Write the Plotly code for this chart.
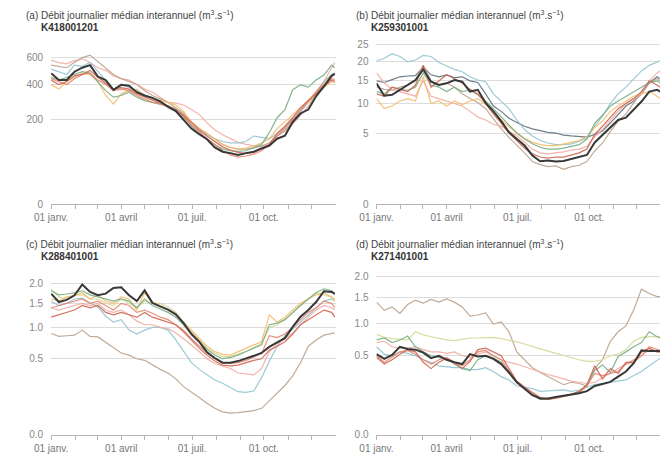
import math
import plotly.graph_objects as go

# ---------------- data ----------------
DAYS = list(range(0, 361, 10)) + [364]
MONTH_STARTS = [0, 31, 59, 90, 120, 151, 181, 212, 243, 273, 304, 334]
LABEL_DAYS = [0, 90, 181, 273]
LABEL_TEXT = ["01 janv.", "01 avril", "01 juil.", "01 oct."]

TITLE_TEXT = "Débit journalier médian interannuel (m<sup>3</sup>.s<sup>−1</sup>)"
PANEL_LETTERS = ["(a)", "(b)", "(c)", "(d)"]
STATIONS = ["K418001201", "K259301001", "K288401001", "K271401001"]

A_TICKS = [0, 200, 400, 600]
A_TICKTEXT = ["0", "200", "400", "600"]
B_TICKS = [0, 5, 10, 15, 20, 25]
B_TICKTEXT = ["0", "5", "10", "15", "20", "25"]
C_TICKS = [0, 0.5, 1.0, 1.5, 2.0]
C_TICKTEXT = ["0.0", "0.5", "1.0", "1.5", "2.0"]
D_TICKS = [0, 0.5, 1.0, 1.5, 2.0]
D_TICKTEXT = ["0.0", "0.5", "1.0", "1.5", "2.0"]

# Panel (a)
A_PINK = [580, 560, 550, 575, 590, 560, 520, 500, 460, 440, 430, 400, 370, 350, 320, 290, 285, 275, 250, 225,
          185, 155, 135, 120, 107, 100, 95, 92, 100, 130, 150, 180, 220, 270, 340, 420, 520, 560]
A_SALMON = [440, 420, 400, 440, 470, 480, 430, 400, 360, 370, 360, 330, 310, 290, 280, 265, 245, 215, 175, 145,
            120, 100, 80, 68, 62, 65, 70, 80, 100, 130, 160, 200, 250, 300, 350, 400, 440, 430]
A_BROWN = [540, 530, 520, 560, 600, 620, 570, 520, 470, 440, 420, 400, 360, 330, 310, 290, 260, 230, 190, 160,
           140, 120, 100, 90, 85, 85, 88, 95, 105, 130, 150, 190, 240, 290, 350, 420, 470, 480]
A_BLUE = [510, 490, 470, 540, 530, 560, 490, 430, 370, 400, 380, 360, 330, 310, 290, 270, 240, 210, 175, 150,
          135, 120, 110, 105, 105, 110, 130, 125, 120, 140, 165, 200, 240, 290, 330, 400, 470, 480]
A_GREEN = [450, 430, 450, 470, 490, 480, 420, 360, 320, 330, 350, 320, 300, 290, 280, 270, 250, 220, 170, 140,
           120, 100, 85, 80, 78, 80, 90, 100, 143, 209, 250, 366, 398, 383, 431, 466, 540, 520]
A_RED = [430, 400, 420, 460, 470, 500, 450, 410, 370, 380, 370, 340, 320, 300, 285, 270, 250, 220, 185, 155,
         130, 110, 92, 82, 75, 72, 75, 85, 100, 140, 170, 210, 260, 300, 340, 390, 430, 420]
A_ORANGE = [400, 370, 420, 450, 480, 470, 420, 330, 280, 340, 360, 370, 330, 310, 300, 290, 275, 240, 190, 160,
            140, 120, 100, 90, 85, 88, 95, 105, 120, 160, 190, 220, 260, 290, 330, 380, 420, 410]
A_BLACK = [478, 431, 431, 490, 520, 540, 455, 430, 365, 398, 392, 350, 330, 316, 296, 265, 242, 198, 160, 137,
           118, 90, 77, 73, 68, 73, 77, 87, 96, 120, 131, 189, 230, 250, 325, 387, 460, 474]

# Panel (b)
B_BLUE = [20.2, 21.0, 22.3, 21.5, 20.0, 20.5, 21.8, 21.5, 19.8, 18.8, 17.9, 17.3, 16.0, 15.2, 14.8, 12.0, 10.5, 9.0, 7.0, 5.5,
          4.6, 4.0, 3.7, 3.5, 3.5, 3.6, 3.9, 4.4, 6.0, 7.6, 10.0, 12.0, 13.5, 15.5, 17.5, 19.0, 20.0, 20.3]
B_SLATE = [15.0, 14.6, 15.3, 16.0, 16.2, 16.3, 18.5, 16.5, 16.0, 16.5, 15.8, 16.0, 15.0, 14.6, 12.0, 9.5, 8.5, 7.3, 6.6, 6.0,
           5.6, 5.3, 5.1, 5.0, 4.7, 4.6, 4.5, 4.45, 4.8, 5.3, 6.5, 8.0, 9.5, 10.5, 12.0, 14.5, 16.0, 15.5]
B_BROWN = [13.5, 13.0, 12.8, 13.5, 14.0, 15.0, 19.0, 15.0, 14.0, 14.5, 13.5, 12.0, 11.0, 10.2, 9.0, 7.2, 5.6, 4.4, 3.5, 2.6,
           1.8, 1.55, 1.4, 1.45, 1.2, 1.4, 1.5, 1.8, 2.8, 3.7, 5.2, 6.8, 8.0, 10.0, 12.5, 14.5, 15.5, 15.0]
B_GREEN = [12.5, 12.0, 13.5, 13.0, 12.8, 13.5, 17.0, 14.0, 13.5, 12.5, 13.5, 12.5, 12.8, 11.8, 10.5, 9.0, 7.5, 6.2, 5.0, 4.2,
           3.6, 3.2, 3.0, 3.0, 3.1, 3.3, 3.5, 4.2, 6.5, 7.8, 9.5, 10.5, 11.5, 12.5, 13.5, 14.5, 15.0, 14.5]
B_RED = [12.0, 11.5, 13.5, 13.0, 12.5, 14.0, 19.0, 13.5, 15.0, 16.5, 15.5, 14.5, 13.0, 12.0, 10.0, 8.0, 6.5, 5.0, 4.0, 3.1,
         2.5, 2.2, 2.1, 2.2, 2.2, 2.4, 2.6, 3.0, 4.8, 6.0, 7.5, 9.0, 10.0, 11.0, 12.5, 15.0, 14.0, 13.5]
B_PINK = [17.0, 14.5, 13.0, 12.5, 12.0, 11.5, 15.0, 11.5, 11.0, 10.5, 10.0, 9.5, 8.5, 7.5, 7.0, 6.3, 6.0, 5.3, 4.6, 3.8,
          3.0, 2.6, 2.5, 2.6, 2.7, 2.9, 3.0, 3.3, 4.5, 5.5, 7.0, 8.5, 10.0, 11.0, 12.0, 15.0, 17.0, 17.5]
B_ORANGE = [11.0, 9.0, 9.5, 10.5, 11.0, 10.5, 16.0, 10.0, 10.5, 9.5, 10.5, 9.8, 10.5, 11.0, 9.8, 8.5, 7.0, 6.0, 5.0, 4.3,
            3.8, 3.5, 3.4, 3.4, 3.6, 3.8, 4.0, 4.5, 5.8, 6.8, 8.5, 9.5, 10.5, 11.5, 12.0, 12.5, 11.5, 11.0]
B_BLACK = [14.4, 11.6, 11.8, 12.9, 14.0, 15.2, 17.9, 14.8, 14.0, 14.4, 15.2, 14.8, 12.5, 12.9, 10.1, 8.5, 6.8, 5.1, 4.2, 3.4,
           2.35, 1.83, 1.88, 1.8, 1.85, 2.03, 2.15, 2.4, 3.76, 4.7, 5.8, 7.0, 7.4, 8.8, 10.4, 12.5, 12.9, 12.5]

# Panel (c)
C_BROWN = [0.89, 0.84, 0.85, 0.86, 0.95, 0.84, 0.83, 0.74, 0.65, 0.58, 0.55, 0.50, 0.48, 0.42, 0.37, 0.33, 0.27, 0.20, 0.16, 0.12,
           0.085, 0.06, 0.045, 0.04, 0.042, 0.045, 0.05, 0.06, 0.10, 0.15, 0.21, 0.30, 0.45, 0.68, 0.78, 0.86, 0.89, 0.90]
C_BLUE = [1.55, 1.45, 1.5, 1.6, 1.62, 1.5, 1.42, 1.22, 1.1, 1.15, 0.95, 0.88, 0.95, 1.0, 1.0, 0.95, 0.78, 0.6, 0.45, 0.37,
          0.31, 0.26, 0.23, 0.19, 0.16, 0.155, 0.165, 0.28, 0.47, 0.68, 0.85, 0.97, 1.1, 1.25, 1.4, 1.55, 1.6, 1.55]
C_PINK = [1.4, 1.35, 1.4, 1.45, 1.5, 1.45, 1.5, 1.35, 1.3, 1.35, 1.25, 1.12, 1.05, 1.05, 1.0, 0.98, 0.9, 0.8, 0.7, 0.6,
          0.5, 0.44, 0.41, 0.38, 0.33, 0.32, 0.31, 0.38, 0.6, 0.72, 0.8, 0.9, 1.05, 1.2, 1.35, 1.45, 1.4, 1.35]
C_RED = [1.2, 1.25, 1.3, 1.35, 1.45, 1.4, 1.45, 1.3, 1.25, 1.3, 1.25, 1.2, 1.3, 1.2, 1.15, 1.1, 1.05, 0.92, 0.78, 0.65,
         0.55, 0.47, 0.42, 0.41, 0.42, 0.45, 0.48, 0.5, 0.62, 0.68, 0.75, 0.88, 1.05, 1.15, 1.25, 1.35, 1.3, 1.2]
C_SALMON = [1.4, 1.45, 1.5, 1.55, 1.6, 1.5, 1.55, 1.45, 1.35, 1.5, 1.45, 1.3, 1.35, 1.28, 1.2, 1.15, 1.05, 0.95, 0.8, 0.68,
            0.58, 0.5, 0.45, 0.44, 0.45, 0.48, 0.52, 0.57, 0.85, 0.82, 0.88, 1.0, 1.15, 1.3, 1.4, 1.55, 1.5, 1.4]
C_GREEN = [1.8, 1.7, 1.72, 1.75, 1.8, 1.7, 1.65, 1.6, 1.55, 1.6, 1.55, 1.4, 1.6, 1.45, 1.38, 1.3, 1.2, 1.05, 0.88, 0.75,
           0.63, 0.55, 0.5, 0.52, 0.55, 0.6, 0.65, 0.7, 1.05, 1.08, 1.15, 1.3, 1.45, 1.6, 1.75, 1.85, 1.8, 1.7]
C_ORANGE = [1.6, 1.55, 1.65, 1.68, 1.75, 1.6, 1.7, 1.55, 1.5, 1.65, 1.6, 1.35, 1.75, 1.5, 1.45, 1.35, 1.25, 1.1, 0.95, 0.8,
            0.68, 0.6, 0.56, 0.55, 0.6, 0.65, 0.7, 0.75, 1.25, 1.1, 1.2, 1.35, 1.5, 1.6, 1.7, 1.75, 1.65, 1.55]
C_YELLOW = [1.85, 1.65, 1.6, 1.7, 1.7, 1.6, 1.6, 1.5, 1.45, 1.6, 1.5, 1.4, 1.55, 1.5, 1.5, 1.42, 1.3, 1.1, 0.92, 0.78,
            0.65, 0.58, 0.53, 0.53, 0.56, 0.6, 0.66, 0.72, 1.0, 1.05, 1.15, 1.3, 1.45, 1.6, 1.75, 1.7, 1.65, 1.6]
C_BLACK = [1.73, 1.53, 1.58, 1.69, 1.96, 1.77, 1.69, 1.73, 1.87, 1.89, 1.69, 1.55, 1.81, 1.51, 1.43, 1.36, 1.26, 1.08, 0.88, 0.75,
           0.59, 0.51, 0.45, 0.45, 0.47, 0.50, 0.54, 0.58, 0.67, 0.74, 0.81, 1.01, 1.21, 1.35, 1.53, 1.79, 1.77, 1.73]

# Panel (d)
D_BROWN = [1.41, 1.24, 1.31, 1.18, 1.36, 1.45, 1.39, 1.47, 1.41, 1.48, 1.41, 1.31, 1.13, 1.15, 1.19, 0.98, 1.02, 0.85, 0.55, 0.45,
           0.36, 0.31, 0.27, 0.24, 0.20, 0.22, 0.21, 0.19, 0.35, 0.45, 0.70, 0.85, 0.95, 1.25, 1.70, 1.60, 1.53, 1.53]
D_YELLOW = [0.81, 0.76, 0.74, 0.73, 0.72, 0.85, 0.80, 0.77, 0.74, 0.72, 0.71, 0.73, 0.75, 0.75, 0.76, 0.76, 0.74, 0.72, 0.69, 0.66,
            0.62, 0.59, 0.56, 0.53, 0.51, 0.48, 0.45, 0.43, 0.43, 0.45, 0.50, 0.52, 0.58, 0.70, 0.76, 0.77, 0.77, 0.77]
D_BLUE = [0.62, 0.52, 0.50, 0.55, 0.53, 0.50, 0.45, 0.42, 0.38, 0.37, 0.36, 0.36, 0.34, 0.34, 0.36, 0.32, 0.27, 0.24, 0.19, 0.18,
          0.17, 0.15, 0.155, 0.16, 0.16, 0.15, 0.16, 0.18, 0.2, 0.21, 0.22, 0.23, 0.24, 0.28, 0.32, 0.38, 0.45, 0.47]
D_GREEN = [0.72, 0.75, 0.68, 0.72, 0.78, 0.62, 0.55, 0.50, 0.48, 0.45, 0.42, 0.35, 0.33, 0.45, 0.50, 0.47, 0.42, 0.30, 0.22, 0.18,
           0.13, 0.10, 0.10, 0.11, 0.12, 0.13, 0.15, 0.20, 0.33, 0.39, 0.31, 0.49, 0.55, 0.62, 0.68, 0.85, 0.77, 0.75]
D_RED = [0.48, 0.40, 0.45, 0.52, 0.58, 0.55, 0.42, 0.35, 0.42, 0.47, 0.40, 0.35, 0.43, 0.58, 0.60, 0.55, 0.50, 0.35, 0.23, 0.18,
         0.14, 0.11, 0.10, 0.11, 0.12, 0.13, 0.15, 0.20, 0.38, 0.25, 0.35, 0.30, 0.42, 0.42, 0.55, 0.60, 0.55, 0.55]
D_PINK = [0.68, 0.70, 0.62, 0.60, 0.60, 0.62, 0.58, 0.55, 0.55, 0.53, 0.55, 0.50, 0.48, 0.52, 0.55, 0.50, 0.45, 0.42, 0.40, 0.37,
          0.34, 0.31, 0.29, 0.27, 0.25, 0.23, 0.22, 0.21, 0.22, 0.26, 0.30, 0.35, 0.40, 0.42, 0.50, 0.58, 0.55, 0.55]
D_SALMON = [0.50, 0.42, 0.48, 0.55, 0.57, 0.52, 0.45, 0.40, 0.45, 0.48, 0.42, 0.38, 0.45, 0.55, 0.57, 0.50, 0.45, 0.33, 0.22, 0.17,
            0.13, 0.105, 0.10, 0.105, 0.115, 0.13, 0.14, 0.19, 0.30, 0.28, 0.30, 0.32, 0.40, 0.45, 0.50, 0.62, 0.58, 0.57]
D_BLACK = [0.52, 0.46, 0.51, 0.62, 0.59, 0.58, 0.54, 0.47, 0.50, 0.45, 0.42, 0.40, 0.52, 0.49, 0.50, 0.46, 0.40, 0.31, 0.22, 0.166,
           0.125, 0.105, 0.105, 0.113, 0.121, 0.132, 0.138, 0.152, 0.19, 0.206, 0.223, 0.27, 0.32, 0.41, 0.57, 0.56, 0.56, 0.56]

# ---------------- styles ----------------
COL = {
    "black": "#383838", "brown": "#bca38d", "blue": "#93c5d1", "green": "#78ae84",
    "red": "#cf6552", "pink": "#f3aba3", "salmon": "#e5866f", "orange": "#f5bd6c",
    "yellow": "#d6d897", "slate": "#5f707c",
}

PANELS = [
    [("pink", A_PINK), ("brown", A_BROWN), ("blue", A_BLUE), ("orange", A_ORANGE), ("green", A_GREEN),
     ("salmon", A_SALMON), ("red", A_RED), ("black", A_BLACK)],
    [("slate", B_SLATE), ("blue", B_BLUE), ("brown", B_BROWN), ("pink", B_PINK), ("orange", B_ORANGE),
     ("green", B_GREEN), ("red", B_RED), ("black", B_BLACK)],
    [("brown", C_BROWN), ("blue", C_BLUE), ("pink", C_PINK), ("yellow", C_YELLOW), ("orange", C_ORANGE),
     ("green", C_GREEN), ("salmon", C_SALMON), ("red", C_RED), ("black", C_BLACK)],
    [("brown", D_BROWN), ("yellow", D_YELLOW), ("blue", D_BLUE), ("pink", D_PINK), ("green", D_GREEN),
     ("salmon", D_SALMON), ("red", D_RED), ("black", D_BLACK)],
]
TICKS = [(A_TICKS, A_TICKTEXT), (B_TICKS, B_TICKTEXT), (C_TICKS, C_TICKTEXT), (D_TICKS, D_TICKTEXT)]

W, H = 660, 461
# pixel geometry: (x_left, x_right, day_at_right, y_bottom, y_top, sqrt_top)
GEOM = [
    (35, 327, 365, 206, 40, 27.35),
    (369, 660, 363.75, 206, 40, 5.139),
    (35, 327, 365, 439.3, 275, 1.513),
    (369, 660, 363.75, 439.3, 275, 1.454),
]
TITLE_POS = [(7, 14, 23, 27), (346, 14, 361, 26.5), (7, 246, 23, 259.3), (346, 246.5, 361, 259.3)]

fig = go.Figure()
layout = dict(
    width=W, height=H, margin=dict(l=0, r=0, t=0, b=0),
    paper_bgcolor="white", plot_bgcolor="white", showlegend=False,
    font=dict(family="Liberation Sans, Arial, sans-serif", size=10, color="#444"),
    annotations=[],
)

for i, series in enumerate(PANELS):
    n = "" if i == 0 else str(i + 1)
    xl, xr, dright, yb, yt, stop = GEOM[i]
    for cname, vals in series:
        is_black = cname == "black"
        fig.add_trace(go.Scatter(
            x=DAYS, y=[math.sqrt(v) for v in vals], mode="lines",
            line=dict(color=COL[cname], width=2.0 if is_black else 1.2),
            opacity=1.0 if is_black else 0.9,
            xaxis="x" + n, yaxis="y" + n, hoverinfo="skip",
        ))
    tv, tt = TICKS[i]
    layout["xaxis" + n] = dict(
        domain=[xl / W, xr / W], range=[0, dright], anchor="y" + n,
        tickmode="array", tickvals=LABEL_DAYS, ticktext=LABEL_TEXT,
        ticks="outside", ticklen=4, tickcolor="#b5b5b5", tickwidth=1,
        minor=dict(tickmode="array", tickvals=MONTH_STARTS, ticks="outside", ticklen=4,
                   tickcolor="#b5b5b5", tickwidth=1, showgrid=False),
        showline=True, linecolor="#b5b5b5", linewidth=1,
        showgrid=False, zeroline=False,
        tickfont=dict(size=10, color="#777"),
    )
    layout["yaxis" + n] = dict(
        domain=[1 - yb / H, 1 - yt / H], range=[0, stop], anchor="x" + n,
        tickmode="array", tickvals=[math.sqrt(v) for v in tv], ticktext=tt,
        showgrid=True, gridcolor="#dcdcdc", gridwidth=1,
        zeroline=False, showline=False, ticks="",
        ticklabelstandoff=7,
        tickfont=dict(size=10, color="#888"),
    )
    tx, ty, sx, sy = TITLE_POS[i]
    layout["annotations"].append(dict(
        xref="paper", yref="paper", x=tx / W, y=1 - ty / H, xanchor="left", yanchor="middle",
        text=PANEL_LETTERS[i] + " " + TITLE_TEXT, showarrow=False,
        font=dict(size=10, color="#444"),
    ))
    layout["annotations"].append(dict(
        xref="paper", yref="paper", x=sx / W, y=1 - sy / H, xanchor="left", yanchor="middle",
        text="<b>" + STATIONS[i] + "</b>", showarrow=False,
        font=dict(size=10, color="#333"),
    ))

fig.update_layout(**layout)
fig.write_html("out.html")
